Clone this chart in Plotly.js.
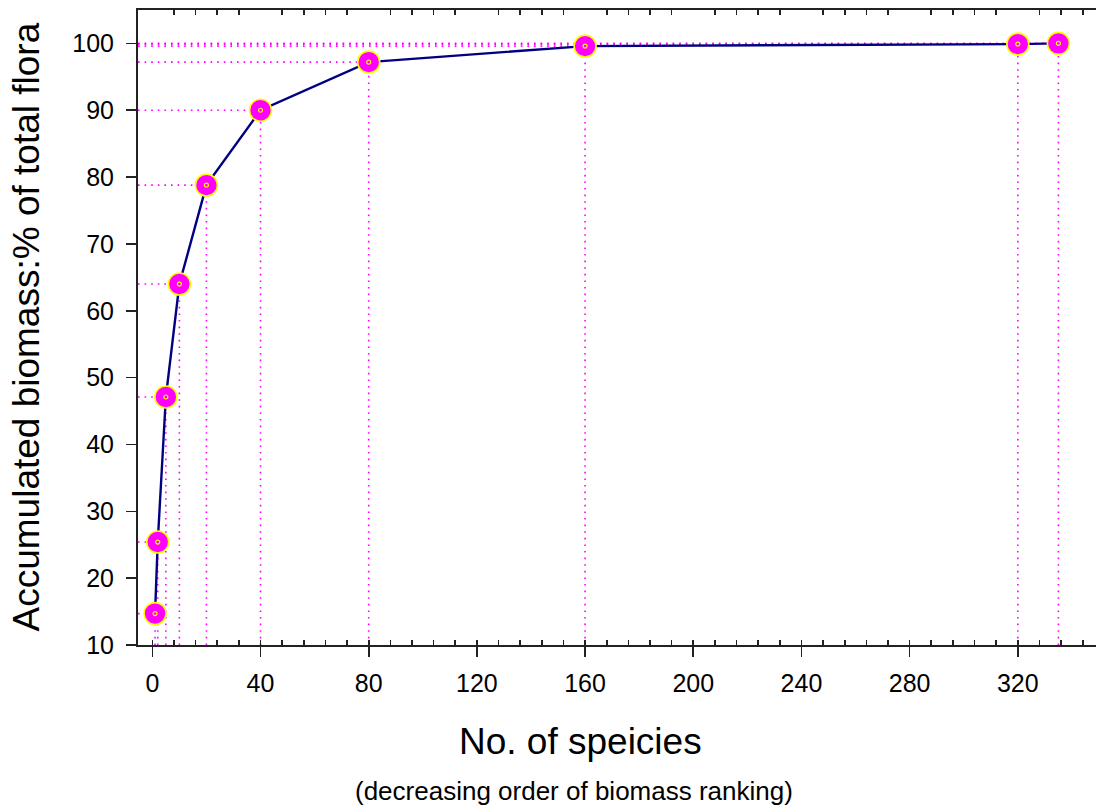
<!DOCTYPE html>
<html><head><meta charset="utf-8">
<script src="https://cdn.plot.ly/plotly-3.0.1.min.js"></script>
<style>html,body{margin:0;padding:0;background:#fff;overflow:hidden}#chart{width:1096px;height:805px}</style>
</head><body><div id="chart"></div>
<script>
// ---- data ----
const speciesCount = [1, 2, 5, 10, 20, 40, 80, 160, 320, 335];
const accumulatedBiomass = [14.7, 25.4, 47.1, 64.0, 78.8, 90.0, 97.2, 99.6, 99.9, 100.0];
const xTickValues = [0, 40, 80, 120, 160, 200, 240, 280, 320];
const yTickValues = [10, 20, 30, 40, 50, 60, 70, 80, 90, 100];
const xTitle = 'No. of speicies';
const xSubtitle = '(decreasing order of biomass ranking)';
const yTitle = 'Accumulated biomass:% of total flora';

// ---- layout constants ----
const X_RANGE = [-5.3, 348.9];
const Y_RANGE = [10, 105];
const AXIS_COLOR = '#222';
const GUIDE = {color: '#ff00ff', width: 1.6, dash: '1.6px,5px'};
const FONT = 'Liberation Sans, Arial, sans-serif';

const shapes = [];
speciesCount.forEach((x, i) => {
  const v = accumulatedBiomass[i];
  shapes.push({type: 'line', xref: 'x', yref: 'y', x0: X_RANGE[0], x1: x, y0: v, y1: v, line: GUIDE, layer: 'below'});
  shapes.push({type: 'line', xref: 'x', yref: 'y', x0: x, x1: x, y0: Y_RANGE[0], y1: v, line: GUIDE, layer: 'below'});
});

const traces = [
  {
    x: speciesCount, y: accumulatedBiomass, type: 'scatter', mode: 'lines+markers',
    line: {color: '#000080', width: 2.4},
    marker: {size: 22, color: '#ff00ff', line: {color: '#ffff00', width: 1.6}},
    hoverinfo: 'x+y', cliponaxis: false
  },
  {
    x: speciesCount, y: accumulatedBiomass, type: 'scatter', mode: 'markers',
    marker: {size: 4, color: '#ff00ff', line: {color: '#ffff00', width: 1.2}},
    hoverinfo: 'skip', cliponaxis: false
  },
  {x: [], y: [], type: 'scatter', xaxis: 'x2', yaxis: 'y', hoverinfo: 'skip', showlegend: false}
];

const layout = {
  width: 1096, height: 805,
  margin: {l: 138, r: 0, t: 10, b: 160, pad: 0},
  paper_bgcolor: '#fff', plot_bgcolor: '#fff',
  showlegend: false,
  font: {family: FONT, color: '#000'},
  xaxis: {
    range: X_RANGE, tickmode: 'array', tickvals: xTickValues, ticktext: xTickValues.map(String),
    ticks: 'outside', ticklen: 10, tickwidth: 1.6, tickcolor: AXIS_COLOR,
    showline: true, linecolor: AXIS_COLOR, linewidth: 2,
    showgrid: false, zeroline: false, ticklabelstandoff: 5,
    tickfont: {size: 25, family: FONT, color: '#000'},
    minor: {ticks: 'inside', ticklen: 5, tickwidth: 1.6, tickcolor: AXIS_COLOR, dtick: 8, tick0: 0, showgrid: false}
  },
  xaxis2: {
    range: X_RANGE, overlaying: 'x', side: 'top', anchor: 'y',
    tickmode: 'linear', tick0: 0, dtick: 40, ticks: '', showticklabels: false,
    showline: true, linecolor: AXIS_COLOR, linewidth: 2,
    showgrid: false, zeroline: false,
    minor: {ticks: 'inside', ticklen: 5, tickwidth: 1.6, tickcolor: AXIS_COLOR, dtick: 8, tick0: 0, showgrid: false}
  },
  yaxis: {
    range: Y_RANGE, tickmode: 'array', tickvals: yTickValues, ticktext: yTickValues.map(String),
    ticks: 'outside', ticklen: 10, tickwidth: 1.6, tickcolor: AXIS_COLOR,
    showline: true, linecolor: AXIS_COLOR, linewidth: 2,
    showgrid: false, zeroline: false, ticklabelstandoff: 7,
    tickfont: {size: 25, family: FONT, color: '#000'}
  },
  shapes: shapes,
  annotations: [
    {text: xTitle, xref: 'paper', yref: 'paper', x: (580 - 138) / 958, y: (645 - 741) / 635,
     xanchor: 'center', yanchor: 'middle', showarrow: false, font: {size: 37, family: FONT, color: '#000'}},
    {text: xSubtitle, xref: 'paper', yref: 'paper', x: (574 - 138) / 958, y: (645 - 791) / 635,
     xanchor: 'center', yanchor: 'middle', showarrow: false, font: {size: 26, family: FONT, color: '#000'}},
    {text: yTitle, xref: 'paper', yref: 'paper', x: (26 - 138) / 958, y: 0.5, textangle: -90,
     xanchor: 'center', yanchor: 'middle', showarrow: false, font: {size: 37, family: FONT, color: '#000'}}
  ]
};

Plotly.newPlot('chart', traces, layout, {displayModeBar: false, staticPlot: true});
</script>
</body></html>
